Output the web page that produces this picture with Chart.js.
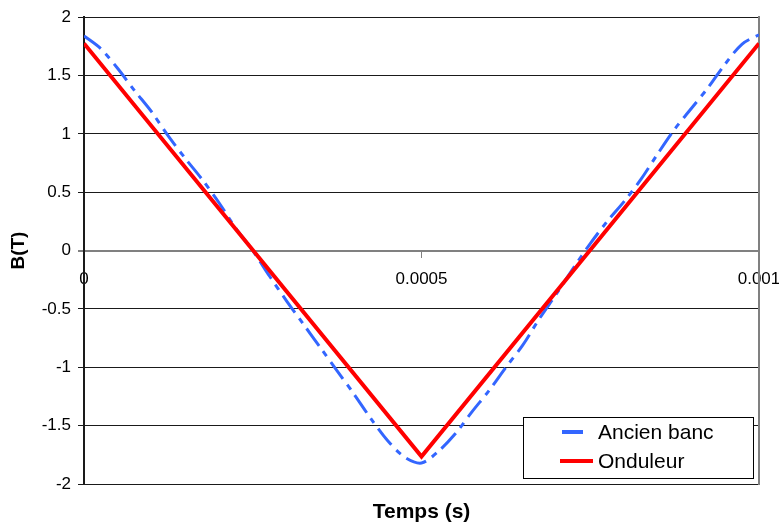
<!DOCTYPE html>
<html>
<head>
<meta charset="utf-8">
<title>B(T)</title>
<script src="https://cdn.jsdelivr.net/npm/chart.js@4.4.1/dist/chart.umd.min.js"></script>
<style>
    body{
        margin: 0;
        background: #ffffff;
    }
    .chart-box{
        width: 779px;
        height: 529px;
    }
</style>
</head>
<body>

<div class="chart-box">
    <canvas id="bChart" width="779" height="529"></canvas>
</div>

<script>

/* =========================
   DATA
========================= */

const seriesNames = ["Ancien banc", "Onduleur"];

// Ancien banc (s)
const timeAncien = [
    0, 0.000025, 0.00005, 0.000075, 0.0001, 0.000125, 0.00015, 0.000175,
    0.0002, 0.000225, 0.00025, 0.000275, 0.0003, 0.000325, 0.00035, 0.000375,
    0.0004, 0.000425, 0.00045, 0.000475, 0.0005, 0.000525, 0.00055, 0.000575,
    0.0006, 0.000625, 0.00065, 0.000675, 0.0007, 0.000725, 0.00075, 0.000775,
    0.0008, 0.000825, 0.00085, 0.000875, 0.0009, 0.000925, 0.00095, 0.000975,
    0.001
];

// Ancien banc (T)
const bAncien = [
    1.84, 1.73, 1.56, 1.37, 1.19, 0.98, 0.79, 0.61,
    0.41, 0.19, 0.00, -0.22, -0.43, -0.63, -0.83, -1.03,
    -1.23, -1.44, -1.63, -1.77, -1.82, -1.72, -1.57, -1.38,
    -1.20, -1.00, -0.81, -0.58, -0.37, -0.15, 0.06, 0.25,
    0.42, 0.61, 0.83, 1.04, 1.22, 1.40, 1.60, 1.77,
    1.85
];

// Onduleur
const timeOnduleur = [0, 0.0005, 0.001];
const bOnduleur = [1.775, -1.765, 1.775];

const xTicks = [0, 0.0005, 0.001];
const xTickLabels = ["0", "0.0005", "0.001"];
const yTicks = [-2, -1.5, -1, -0.5, 0, 0.5, 1, 1.5, 2];
const yTickLabels = ["-2", "-1.5", "-1", "-0.5", "0", "0.5", "1", "1.5", "2"];

/* =========================
   HELPERS
========================= */

function toPoints(xs, ys){

    return xs.map((x, i) => ({ x: x, y: ys[i] }));

}

function fixedTicks(values){

    return scale => {
        scale.ticks = values.map(v => ({ value: v }));
    };

}

/* =========================
   LEGEND (inside plot)
========================= */

const insideLegend = {

    id: "insideLegend",

    afterDatasetsDraw(chart){

        const ctx = chart.ctx;
        const area = chart.chartArea;

        const w = 230;
        const h = 61;
        const left = area.right - 6 - w;
        const top = area.bottom - 6 - h;

        ctx.save();

        ctx.fillStyle = "#ffffff";
        ctx.fillRect(left, top, w, h);
        ctx.strokeStyle = "#000000";
        ctx.lineWidth = 1;
        ctx.strokeRect(left + 0.5, top + 0.5, w, h);

        ctx.font = "21px 'Liberation Sans', Arial, sans-serif";
        ctx.textBaseline = "middle";
        ctx.fillStyle = "#000000";

        chart.data.datasets.forEach((ds, i) => {

            const y = top + 15 + i * 29;

            ctx.strokeStyle = ds.borderColor;
            ctx.lineWidth = 4;
            ctx.beginPath();
            if(i === 0){
                ctx.moveTo(left + 39, y);
                ctx.lineTo(left + 60, y);
            }else{
                ctx.moveTo(left + 37, y);
                ctx.lineTo(left + 70, y);
            }
            ctx.stroke();

            ctx.fillText(ds.label, left + 75, y + 1);

        });

        ctx.restore();

    }

};

/* =========================
   CHART
========================= */

const ctx = document.getElementById("bChart");

new Chart(ctx, {

    type: "line",

    data: {

        datasets: [
            {
                label: seriesNames[0],
                data: toPoints(timeAncien, bAncien),
                xAxisID: "x",
                yAxisID: "y",
                borderColor: "#3366ff",
                borderWidth: 3,
                borderDash: [21, 7, 6, 7],
                pointRadius: 0,
                tension: 0.3,
                fill: false,
                order: 2
            },
            {
                label: seriesNames[1],
                data: toPoints(timeOnduleur, bOnduleur),
                xAxisID: "x",
                yAxisID: "y",
                borderColor: "#ff0000",
                borderWidth: 4,
                pointRadius: 0,
                tension: 0,
                fill: false,
                order: 1
            }
        ]

    },

    options: {

        responsive: false,
        animation: false,

        layout: {
            padding: { top: 16, left: 0, right: 0, bottom: 0 }
        },

        plugins: {
            legend: { display: false },
            tooltip: { enabled: false }
        },

        scales: {

            x: {
                type: "linear",
                position: { y: 0 },
                min: 0,
                max: 0.001,
                afterBuildTicks: fixedTicks(xTicks),
                ticks: {
                    padding: 13,
                    maxRotation: 0,
                    color: "#000000",
                    font: { family: "'Liberation Sans', Arial, sans-serif", size: 17 },
                    callback: (v) => xTickLabels[xTicks.indexOf(v)]
                },
                grid: {
                    drawOnChartArea: false,
                    tickLength: 6,
                    color: "#808080"
                },
                border: {
                    color: "#808080",
                    width: 2
                },
                afterFit(scale){
                    scale.paddingLeft = 0;
                    scale.paddingRight = 0;
                }
            },

            x2: {
                type: "linear",
                position: "bottom",
                ticks: { display: false },
                grid: { display: false },
                border: { display: false },
                title: {
                    display: true,
                    text: "Temps (s)",
                    color: "#000000",
                    padding: { top: 0, bottom: 4 },
                    font: { family: "'Liberation Sans', Arial, sans-serif", size: 21, weight: "bold" }
                },
                afterFit(scale){
                    scale.height = 45;
                    scale.paddingLeft = 0;
                    scale.paddingRight = 0;
                }
            },

            y: {
                type: "linear",
                position: "left",
                min: -2,
                max: 2,
                afterBuildTicks: fixedTicks(yTicks),
                ticks: {
                    padding: 7,
                    color: "#000000",
                    font: { family: "'Liberation Sans', Arial, sans-serif", size: 17 },
                    callback: (v) => yTickLabels[yTicks.indexOf(v)]
                },
                grid: {
                    tickLength: 6,
                    color: (c) => c.tick && c.tick.value === 0 ? "#808080" : "#1a1a1a",
                    lineWidth: (c) => c.tick && c.tick.value === 0 ? 2 : 1
                },
                border: {
                    color: "#1a1a1a",
                    width: 2
                },
                title: {
                    display: true,
                    text: "B(T)",
                    color: "#000000",
                    padding: { top: 7, bottom: 0 },
                    font: { family: "'Liberation Sans', Arial, sans-serif", size: 19, weight: "bold" }
                },
                afterFit(scale){
                    scale.width = 84;
                }
            },

            y2: {
                type: "linear",
                position: "right",
                ticks: { display: false },
                grid: { display: false },
                border: {
                    color: "#808080",
                    width: 2
                },
                afterFit(scale){
                    scale.width = 20;
                }
            }

        }

    },

    plugins: [insideLegend]

});

</script>
</body>
</html>
